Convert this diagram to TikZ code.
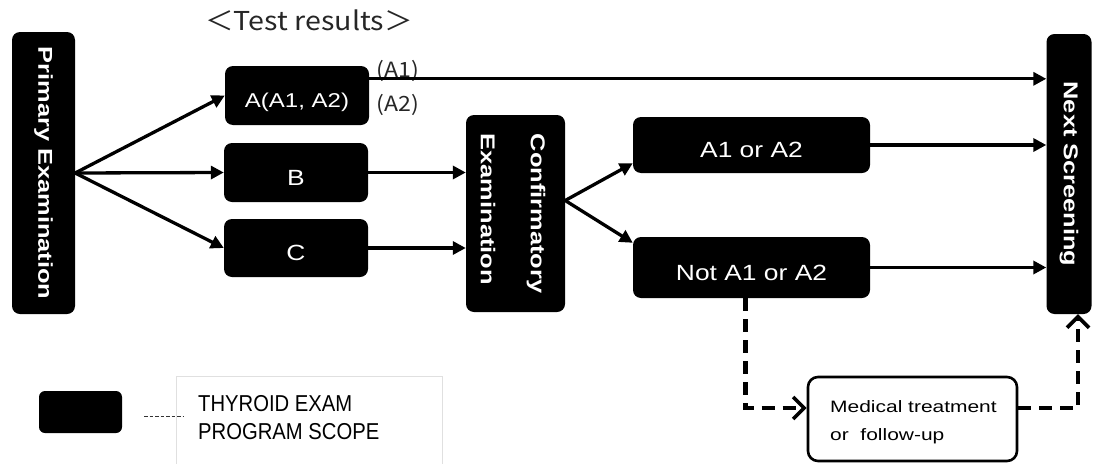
\documentclass[tikz,border=0pt]{standalone}
\usepackage{fontspec}
\setmainfont{Liberation Sans}
\newfontfamily\wf{Liberation Sans}[FakeStretch=1.27]
\newfontfamily\wpf{Liberation Sans}[FakeStretch=1.2]
\newfontfamily\nf{Liberation Sans}[FakeStretch=0.88]
\newfontfamily\jp{Noto Sans CJK JP}[FakeStretch=1.1]
\usetikzlibrary{arrows.meta}
\begin{document}
\begin{tikzpicture}[x=1pt,y=-1pt,
  blk/.style={fill=black, rounded corners=8pt, text=white, inner sep=0pt},
  bigbold/.style={font={\wf\bfseries\fontsize{20}{25}\selectfont}},
  plain/.style={font={\wpf\fontsize{22}{26}\selectfont}, text height=25pt, text depth=0pt},
  arr/.style={line width=3.3pt, -{Triangle[length=13pt,width=13pt]}},
  darr/.style={line width=4.8pt, dash pattern=on 13pt off 8pt, -{Straight Barb[length=11pt,width=22pt,line width=3.6pt]}}]
\useasboundingbox (0,0) rectangle (1099,463);

% title
\node[font={\jp\fontsize{26}{30}\selectfont}, text=black!85] (title) at (309,20) {＜Test results＞};

% main boxes
\node[blk, bigbold, minimum width=63pt, minimum height=282pt] (P) at (43.5,173) {\rotatebox{-90}{Primary Examination}};
\node[blk, plain, font={\wpf\fontsize{20}{24}\selectfont}, text height=23pt, minimum width=144pt, minimum height=59pt] (A) at (297,95.5) {A(A1, A2)};
\node[blk, plain, minimum width=144pt, minimum height=59pt] (B) at (296,172.5) {B};
\node[blk, plain, minimum width=144pt, minimum height=58pt] (C) at (296,248) {C};
\node[blk, bigbold, minimum width=99pt, minimum height=197pt] (Conf) at (515.5,213.5) {\rotatebox{-90}{\begin{tabular}{@{}l@{}}\rule{0pt}{27pt}Confirmatory\\[25pt]Examination\end{tabular}}};
\node[blk, plain, minimum width=237pt, minimum height=56pt] (Y) at (751.5,145) {A1 or A2};
\node[blk, plain, minimum width=237pt, minimum height=61pt] (N) at (751.5,267.5) {Not A1 or A2};
\node[blk, bigbold, minimum width=45pt, minimum height=280pt] (Next) at (1069,174) {\rotatebox{-90}{Next Screening}};
\node[draw=black, line width=2.6pt, rounded corners=10pt, fill=white, minimum width=209pt, minimum height=84pt] (Med) at (912.5,419) {};
\node[anchor=north west, align=left, inner sep=0pt, font={\wf\fontsize{16.5}{28}\selectfont}] (medtxt) at (830,400) {Medical treatment\\or\ \ follow-up};

% labels
\node[font={\jp\fontsize{21}{24}\selectfont}, text=black!85] (lA1) at (398,71) {(A1)};
\node[font={\jp\fontsize{21}{24}\selectfont}, text=black!85] (lA2) at (398,105) {(A2)};

% connectors
\draw[arr] (P.east) -- (A.west);
\draw[arr] (P.east) -- (B.west);
\draw[arr] (P.east) -- (C.west);
\coordinate (a1) at ([yshift=-13pt]A.north east);
\draw[arr] (a1) -- (a1 -| Next.west);
\draw[arr] (B.east) -- (B.east -| Conf.west);
\draw[arr] (C.east) -- (C.east -| Conf.west);
\coordinate (cf) at ([yshift=13pt]Conf.east);
\draw[arr] (cf) -- ([yshift=10pt]Y.south west);
\draw[arr] (cf) -- ([yshift=-6pt]N.north west);
\draw[arr] (Y.east) -- (Y.east -| Next.west);
\draw[arr] (N.east) -- (N.east -| Next.west);
\draw[darr] ([xshift=-6pt]N.south) |- ([yshift=11pt]Med.west);
\draw[darr] ([yshift=11pt]Med.east) -| ([xshift=9pt]Next.south);

% legend
\node[draw=black!12, line width=0.8pt, minimum width=266pt, minimum height=92pt, anchor=north west, inner sep=0pt] (frame) at (176,376) {};
\node[blk, rounded corners=6pt, minimum width=83pt, minimum height=42pt] (L) at (80.5,412) {};
\coordinate (ls) at ([xshift=22pt,yshift=-4pt]L.east);
\draw[line width=0.9pt, dash pattern=on 3.5pt off 2pt, black!80] (ls) -- ++(39,0);
\node[anchor=north west, align=left, inner sep=0pt, font={\nf\fontsize{23}{28}\selectfont}] (legtxt) at (198,395) {THYROID EXAM\\PROGRAM SCOPE};
\end{tikzpicture}
\end{document}
